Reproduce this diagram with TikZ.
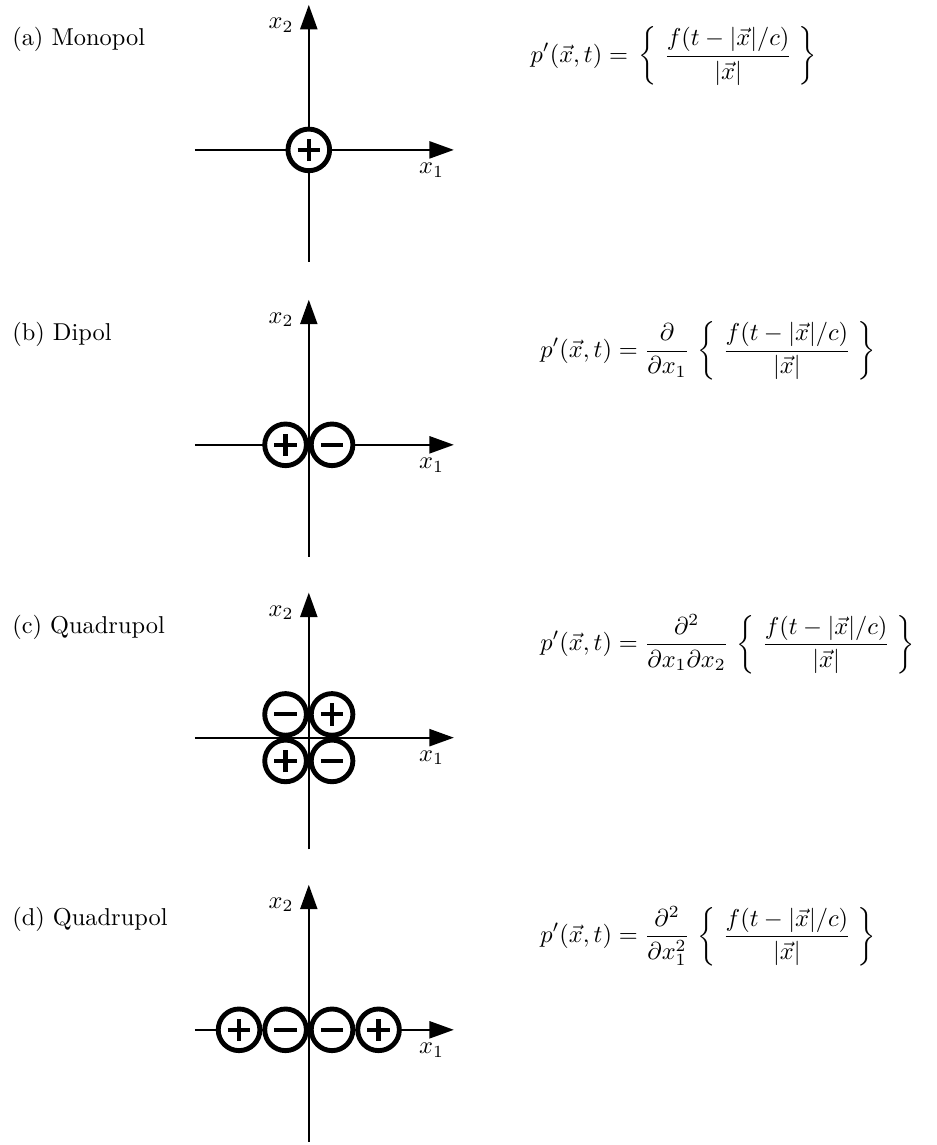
\documentclass[tikz,border=0pt]{standalone}
\usepackage{amsmath}
\usetikzlibrary{calc,arrows.meta}

\begin{document}
\begin{tikzpicture}[
    axis/.style={line width=0.8pt, -{Triangle[length=10pt,width=7pt]}},
    ring/.style={line width=2pt, fill=white},
    sign/.style={line width=1.7pt}]
  \useasboundingbox (0,0) rectangle (13.5,-16.5);

  % Ursprung der vier Teilbilder
  \coordinate (Oa) at (4.45,-2.16);
  \coordinate (Ob) at (4.45,-6.41);
  \coordinate (Oc) at (4.45,-10.63);
  \coordinate (Od) at (4.45,-14.84);

  % Achsen x_1, x_2
  \foreach \o in {Oa,Ob,Oc,Od}{
    \coordinate (\o-l) at ($(\o)+(-1.64,0)$);
    \coordinate (\o-r) at ($(\o)+(2.09,0)$);
    \coordinate (\o-u) at ($(\o)+(0,-1.61)$);
    \coordinate (\o-o) at ($(\o)+(0,2.09)$);
    \draw[axis] (\o-l) -- (\o-r);
    \draw[axis] (\o-u) -- (\o-o);
    \node (\o-x1) at ($(\o)+(1.77,-0.29)$) {$x_1$};
    \node (\o-x2) at ($(\o)+(-0.40,1.80)$) {$x_2$};
  }

  % Ladungen: Teilbild / dx / dy / Vorzeichen (1 = plus, 0 = minus)
  \foreach \o/\dx/\dy/\s in {Oa/0/0/1,
      Ob/-1/0/1, Ob/1/0/0,
      Oc/-1/1/0, Oc/1/1/1, Oc/-1/-1/1, Oc/1/-1/0,
      Od/-3/0/1, Od/-1/0/0, Od/1/0/0, Od/3/0/1}{
    \coordinate (q) at ($(\o)+(0.335*\dx,0.335*\dy)$);
    \draw[ring] (q) circle (0.3);
    \draw[sign] ($(q)+(-0.16,0)$) -- ($(q)+(0.16,0)$);
    \ifnum\s=1
      \draw[sign] ($(q)+(0,-0.16)$) -- ($(q)+(0,0.16)$);
    \fi
  }

  % Bezeichnungen
  \node[anchor=base west, inner sep=0] (la) at ($(Oa)+(-4.28,1.5)$) {(a) Monopol};
  \node[anchor=base west, inner sep=0] (lb) at ($(Ob)+(-4.28,1.5)$) {(b) Dipol};
  \node[anchor=base west, inner sep=0] (lc) at ($(Oc)+(-4.28,1.5)$) {(c) Quadrupol};
  \node[anchor=base west, inner sep=0] (ld) at ($(Od)+(-4.28,1.5)$) {(d) Quadrupol};

  % Schalldruck
  \node[anchor=west, inner sep=0] (fa) at ($(Oa)+(3.19,1.35)$)
    {$\displaystyle p'(\vec{x},t) = \, \left\{ \; \frac{f(t-|\vec{x}|/c)}{|\vec{x}|} \; \right\}$};
  \node[anchor=west, inner sep=0] (fb) at ($(Ob)+(3.33,1.35)$)
    {$\displaystyle p'(\vec{x},t) = \frac{\partial}{\partial x_1} \, \left\{ \; \frac{f(t-|\vec{x}|/c)}{|\vec{x}|} \; \right\}$};
  \node[anchor=west, inner sep=0] (fc) at ($(Oc)+(3.33,1.35)$)
    {$\displaystyle p'(\vec{x},t) = \frac{\partial^2}{\partial x_1 \partial x_2} \, \left\{ \; \frac{f(t-|\vec{x}|/c)}{|\vec{x}|} \; \right\}$};
  \node[anchor=west, inner sep=0] (fd) at ($(Od)+(3.33,1.35)$)
    {$\displaystyle p'(\vec{x},t) = \frac{\partial^2}{\partial x_1^2} \, \left\{ \; \frac{f(t-|\vec{x}|/c)}{|\vec{x}|} \; \right\}$};
\end{tikzpicture}
\end{document}
